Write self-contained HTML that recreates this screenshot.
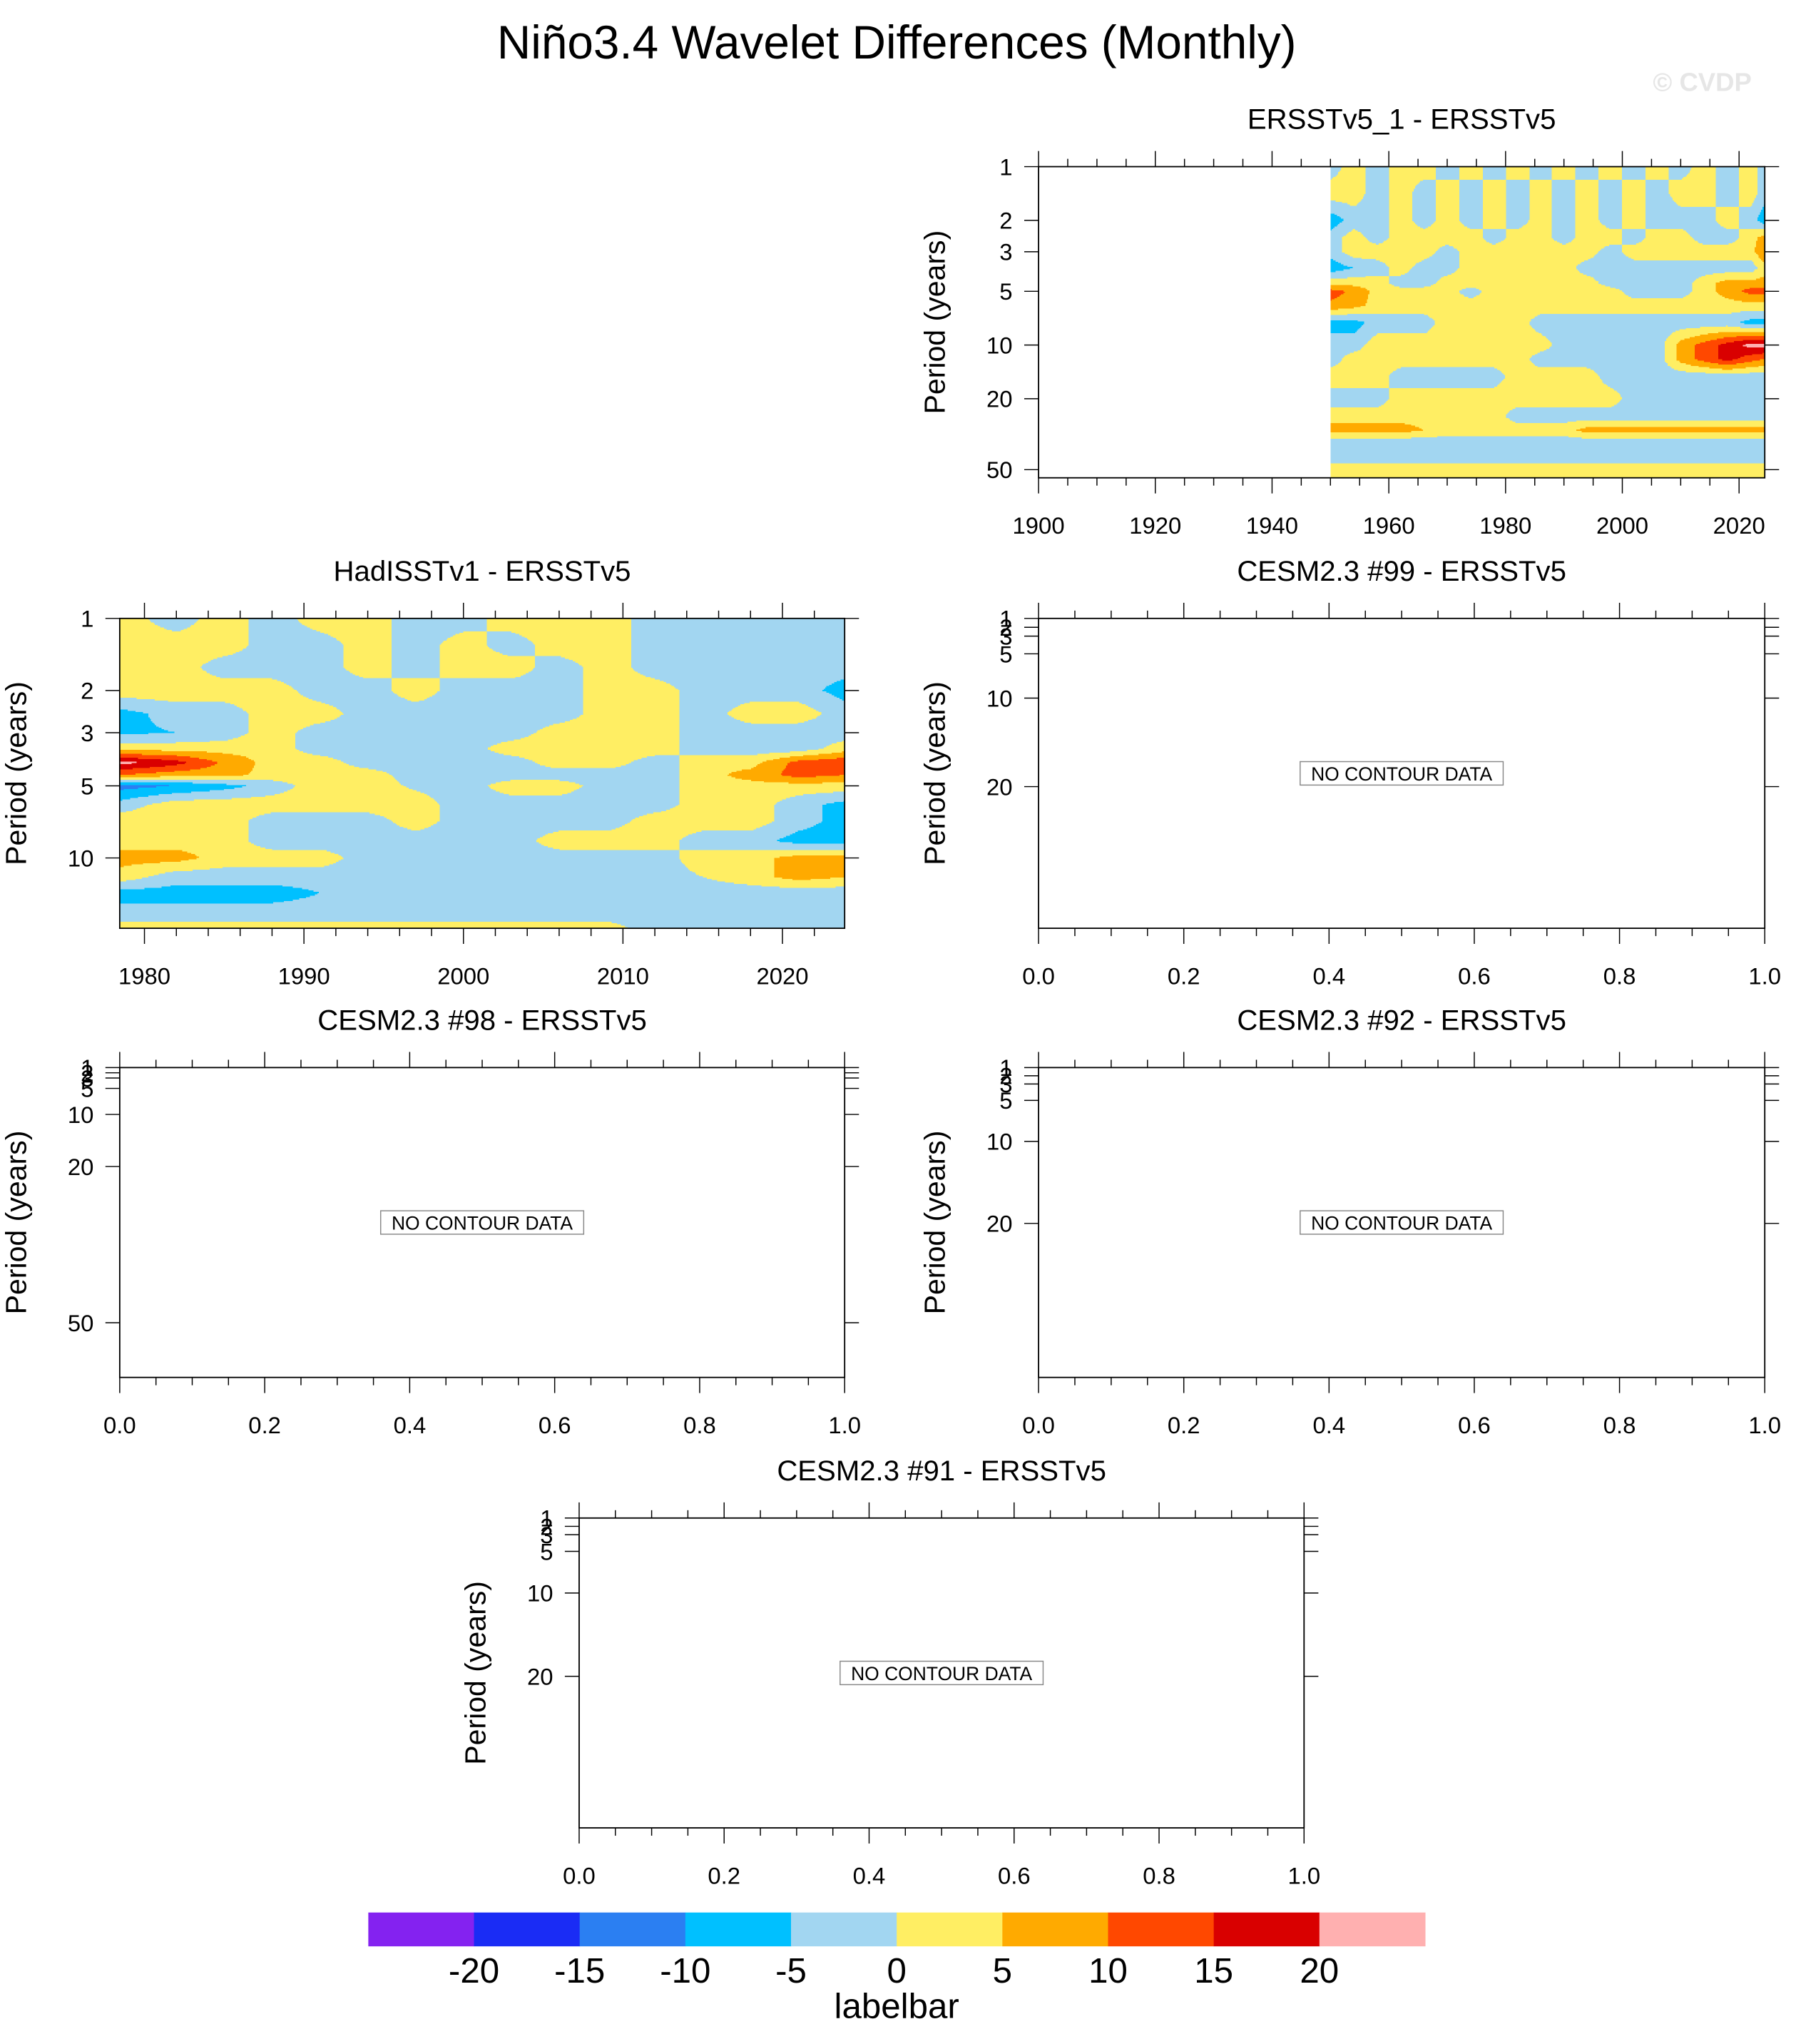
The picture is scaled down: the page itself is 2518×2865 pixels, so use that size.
<!DOCTYPE html>
<html><head><meta charset="utf-8"><style>
html,body{margin:0;padding:0;background:#fff;}
svg{display:block;font-family:"Liberation Sans",Arial,sans-serif;}
</style></head><body>
<svg id="fig" width="2518" height="2865" viewBox="0 0 1380 1570" preserveAspectRatio="none" xmlns="http://www.w3.org/2000/svg">
<rect x="0" y="0" width="1380" height="1570" fill="#fff"/>
<text x="689" y="45" font-size="36" text-anchor="middle">Niño3.4 Wavelet Differences (Monthly)</text>
<text x="1308" y="70" font-size="20" font-weight="bold" fill="#e6e6e6" text-anchor="middle">© CVDP</text>
<g id="panels"></g>
<g id="labelbar"></g>
</svg>
<script>
// ---- colour levels ----
const levelColors = ["#8422f0","#1a2cf5","#2b7ff2","#00c0ff","#a2d6f1","#ffee63","#ffaa00","#ff4800","#d90000","#ffb0b0"];
const levelLabels = ["-20","-15","-10","-5","0","5","10","15","20"];

// ---- ERSSTv5_1 - ERSSTv5 data ----
const ersstYears = [1950,1954,1958,1962,1966,1970,1974,1978,1982,1986,1990,1994,1998,2002,2006,2010,2014,2018,2022,2024.4];
const ersstPeriods = [1,1.4,2,2.5,3,3.7,4.5,5,6,7.5,10,12,15,20,25,30,35,42,50,56];
const ersstValues = [
 [-3,3,-3,3,3,-3,3,-3,3,-3,3,-3,3,-3,3,-3,3,-3,3,-3],
 [3,3,-3,3,-3,3,-3,3,-3,3,-3,3,-3,3,-3,3,3,-3,3,-3],
 [-8,-3,-3,3,-3,3,-3,3,-3,3,-3,3,-3,3,-3,-3,-3,3,-3,-8],
 [-3,3,-3,3,3,3,3,-3,3,3,-3,3,3,-3,3,3,-3,-3,3,7],
 [-3,3,3,3,3,-3,3,3,3,3,3,3,-3,3,3,3,3,3,3,10],
 [-8,-5,-3,3,-3,-3,3,3,3,3,3,-3,-3,-3,-3,-3,-3,-3,-3,3],
 [3,3,3,-3,-3,3,3,3,3,3,3,3,-3,-3,-3,-3,3,7,7,7],
 [12,9,3,3,3,3,-3,3,3,3,3,3,3,-3,-3,-3,3,7,12,12],
 [9,7,3,3,3,3,3,3,3,3,3,3,3,3,3,3,3,3,3,3],
 [-7,-7,-3,-3,-3,3,3,3,3,-3,-3,-3,-3,-3,-3,-3,-3,-3,-7,-7],
 [-3,-3,3,3,3,3,3,3,3,3,-3,-3,-3,-3,-3,7,12,17,22,22],
 [-3,3,3,3,3,3,3,3,3,-3,-3,-3,-3,-3,-3,7,12,17,12,10],
 [3,3,3,-3,-3,-3,-3,-3,3,3,3,3,-3,-3,-3,-3,-3,-3,-3,-3],
 [-3,-3,-3,3,3,3,3,3,3,3,3,3,3,-3,-3,-3,-3,-3,-3,-3],
 [3,3,3,3,3,3,3,3,-3,-3,-3,-3,-3,-3,-3,-3,-3,-3,-3,-3],
 [7,7,7,7,5,3,3,3,3,3,3,7,7,7,7,7,7,7,7,7],
 [-3,-3,-3,-3,-3,-3,-3,-3,-3,-3,-3,-3,-3,-3,-3,-3,-3,-3,-3,-3],
 [-3,-3,-3,-3,-3,-3,-3,-3,-3,-3,-3,-3,-3,-3,-3,-3,-3,-3,-3,-3],
 [3,3,3,3,3,3,3,3,3,3,3,3,3,3,3,3,3,3,3,3],
 [3,3,3,3,3,3,3,3,3,3,3,3,3,3,3,3,3,3,3,3]
];

// ---- HadISSTv1 - ERSSTv5 data ----
const hadYears = [1978.4,1982,1985,1988,1991,1994,1997,2000,2003,2006,2009,2012,2015,2018,2021,2024];
const hadPeriods = [1,1.3,1.6,2,2.5,3,3.5,4,4.5,5,6,7,8.5,10,12,14,17,20];
const hadValues = [
 [3,-3,3,-3,3,3,-3,-3,3,3,3,-3,-3,-3,-3,-3],
 [3,3,3,-3,-3,3,-3,3,-3,3,3,-3,-3,-3,-3,-3],
 [3,3,-3,-3,-3,3,-3,3,3,-3,3,-3,-3,-3,-3,-3],
 [3,3,3,3,-3,-3,3,-3,-3,-3,3,3,-3,-3,-3,-7],
 [-7,-3,-3,3,3,-3,-3,-3,-3,-3,3,3,-3,3,3,-3],
 [-6,-5,-3,3,-3,-3,-3,-3,-3,3,3,3,-3,-3,-3,-3],
 [3,3,3,3,-3,-3,-3,-3,3,3,3,3,-3,-3,-3,3],
 [22,17,9,3,3,-3,-3,-3,-3,3,3,-3,3,3,12,14],
 [10,7,7,3,3,3,-3,-3,-3,-3,-3,-3,3,7,12,10],
 [-12,-10,-7,-3,3,3,-1,-3,3,3,-3,-3,3,3,3,3],
 [-3,3,3,3,3,3,3,-3,-3,-3,-3,-3,3,3,-3,-7],
 [3,3,3,-3,-3,-3,3,-3,-3,-3,-3,3,3,3,-3,-7],
 [3,3,3,-3,-3,-3,-3,-3,-3,3,3,3,-3,-3,-7,-7],
 [7,7,3,3,3,-3,-3,-3,-3,-3,-3,-3,3,3,7,7],
 [3,-3,-3,-3,-3,-3,-3,-3,-3,-3,-3,-3,0,3,7,5],
 [-7,-7,-7,-7,-5,-3,-3,-3,-3,-3,-3,-3,-3,-3,-3,-3],
 [-3,-3,-3,-3,-3,-3,-3,-3,-3,-3,-3,-3,-3,-3,-3,-3],
 [3,3,3,3,3,3,3,3,3,3,3,-3,-3,-3,-3,-3]
];

const NS = "http://www.w3.org/2000/svg";
function el(tag, attrs, parent){ const e=document.createElementNS(NS,tag); for(const k in attrs) e.setAttribute(k,attrs[k]); if(parent) parent.appendChild(e); return e; }
function colorFor(v){ let c=Math.floor((v+25)/5); if(!(c>=0))c=0; if(c>9)c=9; return levelColors[c]; }
function findIdx(arr, v){ if(v<=arr[0]) return [0,0]; for(let i=0;i<arr.length-1;i++){ if(v<=arr[i+1]) return [i,(v-arr[i])/(arr[i+1]-arr[i])]; } return [arr.length-2,1]; }
function sample(years, periods, vals, yr, p){
  const lp = periods.map(Math.log); const [i,fx]=findIdx(years,yr); const [j,fy]=findIdx(lp,Math.log(p));
  const a=vals[j][i], b=vals[j][i+1], c=vals[j+1][i], d=vals[j+1][i+1];
  return (a*(1-fx)+b*fx)*(1-fy)+(c*(1-fx)+d*fx)*fy;
}

const root = document.getElementById('panels');

function drawPanel(cfg){
  const g = el('g',{},root);
  
  
  const {x0,y0,w,h} = cfg;
  const xs = v => x0 + (v-cfg.xmin)/(cfg.xmax-cfg.xmin)*w;
  if(cfg.data){
    const d = cfg.data; const fg = el('g',{'shape-rendering':'crispEdges'},g);
    
    
    const xStart = Math.max(x0, xs(d.years[0]));
    const xEnd = Math.min(x0+w, xs(d.years[d.years.length-1]));
    const n = Math.ceil(xEnd - xStart);
    for(let py=y0; py<y0+h; py+=1){
      const p = cfg.yInv(py+0.5);
      let runStart=xStart, runCol=null;
      for(let k=0;k<=n;k++){
        const px = Math.min(xStart+k, xEnd);
        let col=null;
        if(k<n){ const yr = cfg.xmin + (px+0.5-x0)/w*(cfg.xmax-cfg.xmin); col = colorFor(sample(d.years,d.periods,d.values,yr,p)); }
        if(col!==runCol){ if(runCol){ el('rect',{x:runStart,y:py,width:Math.min(px,xEnd)-runStart+0.4,height:1.4,fill:runCol},fg);} runStart=px; runCol=col; }
      }
    }
  }
  el('rect',{x:x0,y:y0,width:w,height:h,fill:'none',stroke:'#000','stroke-width':1},g);
  const nMin = Math.round((cfg.xmax-cfg.xmin)/cfg.xMinor);
  for(let k=0;k<=nMin+1;k++){
    const v = cfg.xFirstMinor + k*cfg.xMinor; if(v>cfg.xmax+1e-9) break; if(v<cfg.xmin-1e-9) continue;
    const isMaj = Math.abs(((v-cfg.xFirstMajor)/cfg.xMajor) - Math.round((v-cfg.xFirstMajor)/cfg.xMajor))<1e-6;
    const L = isMaj?12:6; const x=xs(v);
    el('line',{x1:x,y1:y0,x2:x,y2:y0-L,stroke:'#000','stroke-width':0.8},g);
    el('line',{x1:x,y1:y0+h,x2:x,y2:y0+h+L,stroke:'#000','stroke-width':0.8},g);
  }
  cfg.xLabels.forEach(v=>{
    const t = el('text',{x:xs(v),y:y0+h+43,'font-size':18,'text-anchor':'middle'},g);
    
    
    t.textContent = cfg.xFmt(v);
  });
  cfg.yTicks.forEach(v=>{
    const y = cfg.yFn(v);
    el('line',{x1:x0-11,y1:y,x2:x0,y2:y,stroke:'#000','stroke-width':0.8},g);
    el('line',{x1:x0+w,y1:y,x2:x0+w+11,y2:y,stroke:'#000','stroke-width':0.8},g);
    const t = el('text',{x:x0-20,y:y+6.5,'font-size':18,'text-anchor':'end'},g);
    
    
    t.textContent = String(v);
  });
  const yt = el('text',{x:0,y:0,'font-size':22.5,'text-anchor':'middle',transform:`translate(${cfg.yTitleX},${y0+h/2}) rotate(-90)`},g);
  
  
  yt.textContent = 'Period (years)';
  const tt = el('text',{x:x0+w/2,y:y0-29,'font-size':22,'text-anchor':'middle'},g);
  
  
  tt.textContent = cfg.title;
  if(cfg.noData){
    const cx=x0+w/2, cy=y0+h/2;
    const b = el('rect',{x:cx-78,y:cy-9,width:156,height:18,fill:'#fff',stroke:'#888','stroke-width':0.8},g);
    
    
    const nt = el('text',{x:cx,y:cy+5.5,'font-size':14.5,'text-anchor':'middle'},g);
    
    
    nt.textContent='NO CONTOUR DATA';
  }
}

(function(){
  const y0=128, dec=137;
  drawPanel({name:'panel-ersstv5-1', title:'ERSSTv5_1 - ERSSTv5', x0:798,y0:y0,w:558,h:239, xmin:1900,xmax:2024.4,
    xMinor:5,xFirstMinor:1900,xMajor:20,xFirstMajor:1900,xLabels:[1900,1920,1940,1960,1980,2000,2020],xFmt:v=>String(v),
    yFn:p=>y0+dec*Math.log10(p), yInv:y=>Math.pow(10,(y-y0)/dec), yTicks:[1,2,3,5,10,20,50], yTitleX:726,
    data:{years:ersstYears,periods:ersstPeriods,values:ersstValues}});
})();
(function(){
  const y0=475, dec=184;
  drawPanel({name:'panel-hadisstv1', title:'HadISSTv1 - ERSSTv5', x0:92,y0:y0,w:557,h:238, xmin:1978.45,xmax:2023.9,
    xMinor:2,xFirstMinor:1980,xMajor:10,xFirstMajor:1980,xLabels:[1980,1990,2000,2010,2020],xFmt:v=>String(v),
    yFn:p=>y0+dec*Math.log10(p), yInv:y=>Math.pow(10,(y-y0)/dec), yTicks:[1,2,3,5,10], yTitleX:20,
    data:{years:hadYears,periods:hadPeriods,values:hadValues}});
})();
function emptyPanel(name,title,x0,y0,w,unit,ticks,yTitleX){
  drawPanel({name:name,title:title,x0:x0,y0:y0,w:w,h:238,xmin:0,xmax:1,xMinor:0.05,xFirstMinor:0,xMajor:0.2,xFirstMajor:0,
    xLabels:[0,0.2,0.4,0.6,0.8,1.0],xFmt:v=>v.toFixed(1),yFn:p=>y0+(p-1)*unit,yInv:y=>1+(y-y0)/unit,yTicks:ticks,yTitleX:yTitleX,noData:true});
}
emptyPanel('panel-cesm-99','CESM2.3 #99 - ERSSTv5',798,475,558,6.8,[1,2,3,5,10,20],726);
emptyPanel('panel-cesm-98','CESM2.3 #98 - ERSSTv5',92,820,557,4.0,[1,2,3,5,10,20,50],20);
emptyPanel('panel-cesm-92','CESM2.3 #92 - ERSSTv5',798,820,558,6.3,[1,2,3,5,10,20],726);
emptyPanel('panel-cesm-91','CESM2.3 #91 - ERSSTv5',445,1166,557,6.4,[1,2,3,5,10,20],373);

(function(){
  const lb=document.getElementById('labelbar'); const x0=283, bw=81.2, y0=1469, bh=26;
  levelColors.forEach((c,i)=>{
    const r=el('rect',{x:x0+i*bw,y:y0,width:bw+0.3,height:bh,fill:c},lb);
    
    
  });
  levelLabels.forEach((s,i)=>{
    const t=el('text',{x:x0+(i+1)*bw,y:1523,'font-size':27,'text-anchor':'middle'},lb);
    
    
    t.textContent=s;
  });
  const t=el('text',{x:689,y:1550,'font-size':27,'text-anchor':'middle'},lb);
  
  
  t.textContent='labelbar';
})();
</script>
</body></html>
